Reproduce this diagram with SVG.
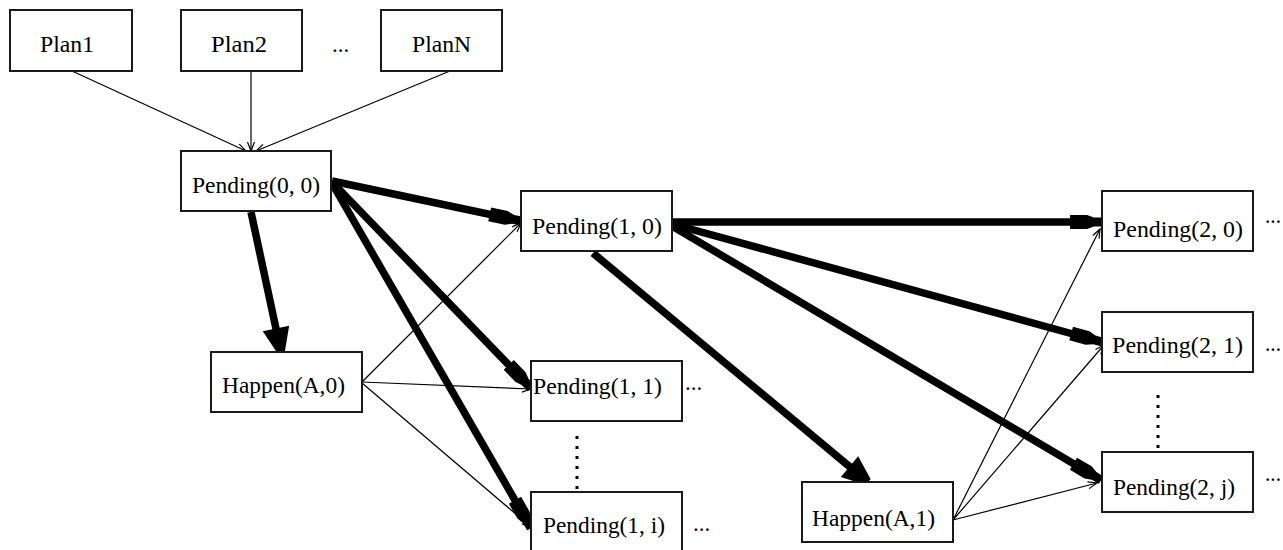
<svg xmlns="http://www.w3.org/2000/svg" width="1283" height="550" viewBox="0 0 1283 550">
<style>
.box{fill:#fff;stroke:#1a1a1a;stroke-width:2}
.lbl{font-family:"Liberation Serif","Times New Roman",serif;font-size:23px;fill:#000}
.thin{stroke:#000;stroke-width:1.2;fill:none;marker-end:url(#thinHead)}
.thick{stroke:#000;stroke-width:7.5;fill:none;marker-end:url(#blkHead)}
.thickB{stroke:#000;stroke-width:7.5;fill:none;marker-end:url(#bigHead)}
.dot{stroke:#000;stroke-width:3;stroke-dasharray:3 7;fill:none}
</style>
<defs>
<marker id="thinHead" markerUnits="userSpaceOnUse" viewBox="-10 -5 11 10" markerWidth="11" markerHeight="10" refX="0" refY="0" orient="auto" overflow="visible">
<path d="M-9,-3.5 L0,0 L-9,3.5" fill="none" stroke="#000" stroke-width="1.2"/>
</marker>
<marker id="blkHead" markerUnits="userSpaceOnUse" viewBox="-34 -8 36 16" markerWidth="36" markerHeight="16" refX="0" refY="0" orient="auto" overflow="visible">
<path d="M-32,-7 L-15,-7 L-8,-4.5 L0,-4.5 L0,4.5 L-8,4.5 L-15,7 L-32,7 Z" fill="#000"/>
</marker>
<marker id="bigHead" markerUnits="userSpaceOnUse" viewBox="-26 -14 28 28" markerWidth="28" markerHeight="28" refX="0" refY="0" orient="auto" overflow="visible">
<path d="M-24,-13.5 L0,-4 L0,4 L-24,13.5 Z" fill="#000"/>
</marker>
</defs>
<rect width="1283" height="550" fill="#fff"/>
<g id="connectors">
<line class="thin" x1="72" y1="71" x2="246" y2="151"/>
<line class="thin" x1="251" y1="71" x2="251" y2="151"/>
<line class="thin" x1="450" y1="71" x2="256" y2="151"/>
<line class="thin" x1="362" y1="382" x2="521" y2="223"/>
<line class="thin" x1="362" y1="382" x2="531" y2="389"/>
<line class="thin" x1="362" y1="383" x2="531" y2="527"/>
<line class="thin" x1="953" y1="520" x2="1100" y2="229"/>
<line class="thin" x1="953" y1="520" x2="1104" y2="345"/>
<line class="thin" x1="953" y1="520" x2="1097" y2="483"/>
<line class="thick" x1="332" y1="181" x2="521" y2="221"/>
<line class="thickB" x1="251" y1="212" x2="281" y2="352"/>
<line class="thick" x1="333" y1="183" x2="531" y2="388"/>
<line class="thick" x1="333" y1="185" x2="531" y2="528"/>
<line class="thick" x1="672" y1="222" x2="1102" y2="222"/>
<line class="thick" x1="672" y1="224" x2="1102" y2="342"/>
<line class="thick" x1="672" y1="226" x2="1101" y2="480"/>
<line class="thickB" x1="593" y1="253" x2="868" y2="482"/>
<line class="dot" x1="577" y1="436" x2="577" y2="490"/>
<line class="dot" x1="1158" y1="395" x2="1158" y2="450"/>
</g>
<g id="plan1"><rect class="box" x="10" y="10" width="122" height="61"/><text class="lbl" x="40" y="52" textLength="54" lengthAdjust="spacingAndGlyphs">Plan1</text></g>
<g id="plan2"><rect class="box" x="181" y="10" width="121" height="61"/><text class="lbl" x="211" y="52" textLength="56" lengthAdjust="spacingAndGlyphs">Plan2</text></g>
<g id="plan-ellipsis"><text class="lbl" x="332" y="52">...</text></g>
<g id="planN"><rect class="box" x="381" y="10" width="121" height="61"/><text class="lbl" x="412" y="52" textLength="59" lengthAdjust="spacingAndGlyphs">PlanN</text></g>
<g id="pending00"><rect class="box" x="181" y="151" width="150" height="60"/><text class="lbl" x="192" y="193" textLength="128" lengthAdjust="spacingAndGlyphs">Pending(0, 0)</text></g>
<g id="happenA0"><rect class="box" x="211" y="352" width="151" height="60"/><text class="lbl" x="222" y="393" textLength="123" lengthAdjust="spacingAndGlyphs">Happen(A,0)</text></g>
<g id="pending10"><rect class="box" x="521" y="191" width="151" height="60"/><text class="lbl" x="532" y="234" textLength="130" lengthAdjust="spacingAndGlyphs">Pending(1, 0)</text></g>
<g id="pending11"><rect class="box" x="531" y="361" width="151" height="60"/><text class="lbl" x="533" y="394" textLength="129" lengthAdjust="spacingAndGlyphs">Pending(1, 1)</text><text class="lbl" x="685" y="390">...</text></g>
<g id="pending1i"><rect class="box" x="531" y="492" width="151" height="60"/><text class="lbl" x="543" y="533" textLength="122" lengthAdjust="spacingAndGlyphs">Pending(1, i)</text><text class="lbl" x="693" y="531">...</text></g>
<g id="happenA1"><rect class="box" x="802" y="482" width="151" height="60"/><text class="lbl" x="812" y="526" textLength="123" lengthAdjust="spacingAndGlyphs">Happen(A,1)</text></g>
<g id="pending20"><rect class="box" x="1102" y="191" width="151" height="60"/><text class="lbl" x="1265" y="223" textLength="16" lengthAdjust="spacingAndGlyphs">...</text><text class="lbl" x="1113" y="237" textLength="130" lengthAdjust="spacingAndGlyphs">Pending(2, 0)</text></g>
<g id="pending21"><rect class="box" x="1102" y="312" width="151" height="60"/><text class="lbl" x="1112" y="353" textLength="131" lengthAdjust="spacingAndGlyphs">Pending(2, 1)</text><text class="lbl" x="1265" y="351" textLength="16" lengthAdjust="spacingAndGlyphs">...</text></g>
<g id="pending2j"><rect class="box" x="1102" y="452" width="151" height="60"/><text class="lbl" x="1113" y="495" textLength="122" lengthAdjust="spacingAndGlyphs">Pending(2, j)</text><text class="lbl" x="1265" y="481" textLength="16" lengthAdjust="spacingAndGlyphs">...</text></g>
</svg>
